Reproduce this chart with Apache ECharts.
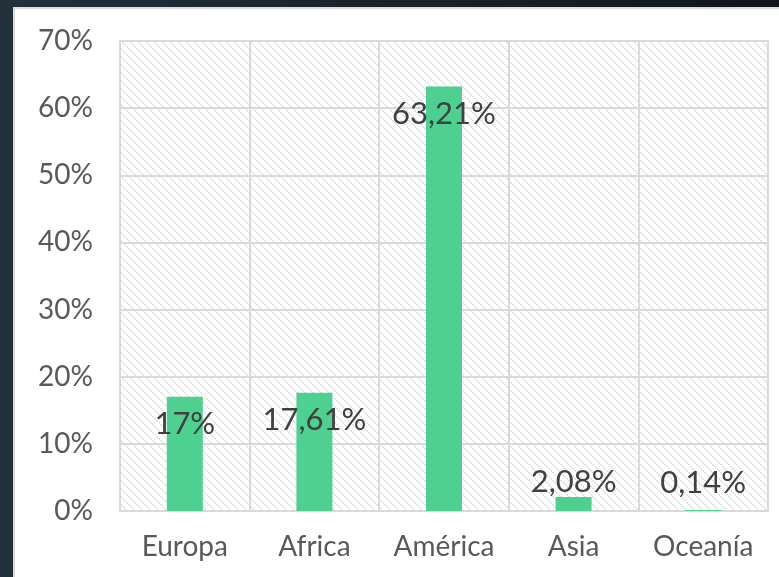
<!DOCTYPE html>
<html>
<head>
<meta charset="utf-8">
<script src="https://cdn.jsdelivr.net/npm/echarts@6/dist/echarts.min.js"></script>
<style>
  html, body { margin: 0; padding: 0; }
  body {
    width: 779px; height: 577px; overflow: hidden;
    background: linear-gradient(90deg, #22313b 0%, #1a2229 50%, #12151a 100%);
  }
  #panel {
    position: absolute; left: 13px; top: 7px; width: 770px; height: 575px;
    background: #fff; border: 2px solid #dcdcdc; box-sizing: border-box;
  }
  #chart { position: absolute; left: 0; top: 0; width: 779px; height: 577px; }
</style>
</head>
<body>
<div id="panel"></div>
<div id="chart"></div>
<script>
// regiones y porcentajes
const categories = ["Europa", "Africa", "América", "Asia", "Oceanía"];
const values = [17, 17.61, 63.21, 2.08, 0.14];
const valueLabels = ["17%", "17,61%", "63,21%", "2,08%", "0,14%"];

// patrón rayado del fondo
function hatch() {
  const c = document.createElement("canvas");
  c.width = 8; c.height = 8;
  const ctx = c.getContext("2d");
  ctx.fillStyle = "#fff";
  ctx.fillRect(0, 0, 8, 8);
  ctx.fillStyle = "#e0e0e0";
  for (let i = 0; i < 8; i++) {
    ctx.fillRect(i, i, 1, 1);
    if (i % 2 === 0) ctx.fillRect((i + 1) % 8, i, 1, 1);
  }
  return c;
}

const chart = echarts.init(document.getElementById("chart"));
const font = "Lato, 'DejaVu Sans', sans-serif";

const data = values.map(function (v, i) {
  let lbl;
  if (v > 10) {
    lbl = { position: "insideTop", distance: 12 };
  } else {
    lbl = { position: "top", distance: i === 3 ? 0 : 12 };
  }
  return { value: v, label: lbl };
});

chart.setOption({
  animation: false,
  grid: {
    left: 120, top: 41, width: 648, height: 470,
    show: true,
    backgroundColor: { image: hatch(), repeat: "repeat" },
    borderColor: "#d9d9d9", borderWidth: 2
  },
  xAxis: {
    type: "category",
    data: categories,
    axisLine: { show: true, lineStyle: { color: "#d9d9d9", width: 2 } },
    axisTick: { show: false },
    splitLine: { show: true, interval: 0, lineStyle: { color: "#d9d9d9", width: 2 } },
    axisLabel: { interval: 0, color: "#595959", fontSize: 28, fontFamily: font, margin: 22 }
  },
  yAxis: {
    type: "value",
    min: 0, max: 70, interval: 10,
    axisLine: { show: false },
    axisTick: { show: false },
    splitLine: { lineStyle: { color: "#d9d9d9", width: 2 } },
    axisLabel: {
      color: "#595959", fontSize: 28, fontFamily: font, margin: 27,
      formatter: "{value}%"
    }
  },
  series: [{
    type: "bar",
    data: data,
    barWidth: 36,
    itemStyle: { color: "#4ed091" },
    label: {
      show: true,
      color: "#404040",
      fontSize: 31,
      lineHeight: 31,
      fontFamily: font,
      formatter: function (p) { return valueLabels[p.dataIndex]; }
    }
  }]
});
</script>
</body>
</html>
